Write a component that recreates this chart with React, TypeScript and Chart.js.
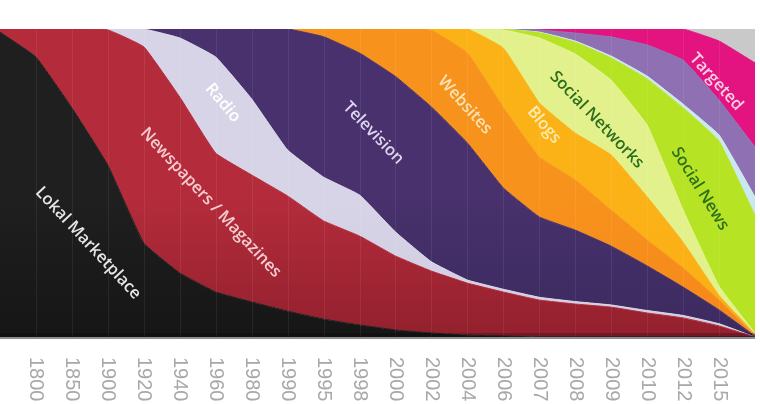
import React, { useEffect, useRef } from 'react';
import { Chart, registerables } from 'chart.js';
Chart.register(...registerables);

const years = ['1800', '1850', '1900', '1920', '1940', '1960', '1980', '1990', '1995', '1998', '2000', '2002', '2004', '2006', '2007', '2008', '2009', '2010', '2012', '2015'];
const categories = ['', ...years, ''];

const lokalMarketplace = [99, 90.9, 74.4, 55.8, 30.5, 20.8, 14.6, 11.4, 8.4, 5.8, 3.9, 2.3, 1.3, 0.6, 0.3, 0, 0, 0, 0, 0, 0, 0];
const newspapers = [1, 9.1, 25.6, 43.9, 63.7, 57.1, 45.1, 41.2, 37.4, 31.9, 28.9, 24.0, 20.1, 16.9, 14.3, 12.0, 10.7, 9.7, 7.8, 6.2, 3.6, 0];
const radio = [0, 0, 0, 0.3, 5.8, 19.2, 31.2, 24.7, 14.9, 14.2, 13.3, 7.8, 3.0, 1.0, 0.9, 0.9, 0.8, 0.7, 0.8, 0.8, 0.7, 0];
const television = [0, 0, 0, 0, 0, 2.9, 9.1, 22.7, 39.3, 45.6, 46.1, 50.5, 50.3, 44.5, 32.9, 26.1, 23.2, 19.1, 14.5, 9.2, 4.5, 0.3];
const websites = [0, 0, 0, 0, 0, 0, 0, 0, 0, 2.5, 7.8, 15.4, 24.8, 29.2, 26.0, 19.4, 16.3, 11.7, 8.4, 6.2, 3.2, 0.2];
const blogs = [0, 0, 0, 0, 0, 0, 0, 0, 0, 0, 0, 0, 0.5, 7.8, 19.4, 17.6, 15.2, 17.9, 14.0, 8.4, 1.5, 0.5];
const socialNetworks = [0, 0, 0, 0, 0, 0, 0, 0, 0, 0, 0, 0, 0, 0, 5.9, 21.1, 25.7, 24.3, 23.3, 10.4, 3.0, 0.3];
const socialNews = [0, 0, 0, 0, 0, 0, 0, 0, 0, 0, 0, 0, 0, 0, 0.2, 1.7, 3.8, 7.2, 15.0, 33.2, 47.1, 38.2];
const otherLight = [0, 0, 0, 0, 0, 0, 0, 0, 0, 0, 0, 0, 0, 0, 0.1, 0.2, 0.4, 0.6, 0.9, 1.2, 2.0, 6.0];
const otherViolet = [0, 0, 0, 0, 0, 0, 0, 0, 0, 0, 0, 0, 0, 0, 0, 0.7, 2.6, 6.2, 10.1, 14.3, 11.3, 16.2];
const targeted = [0, 0, 0, 0, 0, 0, 0, 0, 0, 0, 0, 0, 0, 0, 0, 0.3, 1.3, 2.6, 5.2, 10.1, 19.2, 27.3];
const future = [0, 0, 0, 0, 0, 0, 0, 0, 0, 0, 0, 0, 0, 0, 0, 0, 0, 0, 0, 0, 3.9, 11.0];

const seriesNames = ['Lokal Marketplace', 'Newspapers / Magazines', 'Radio', 'Television', 'Websites', 'Blogs', 'Social Networks', 'Social News', 'Other', 'Mobile', 'Targeted', 'Future'];
const seriesData = [lokalMarketplace, newspapers, radio, television, websites, blogs, socialNetworks, socialNews, otherLight, otherViolet, targeted, future];
const seriesColors = ['#1f1f1f', '#b42c3b', '#d8d4e7', '#48316c', '#f7921c', '#fbb217', '#e3f18c', '#b6e424', '#cbe7ef', '#8e70b3', '#e3147f', '#c9c9c9'];
const seriesBottomColors = ['#161616', '#93202e', '#d0cce2', '#3b2a5f', '#f5871a', '#fbae15', '#e3f18c', '#b6e424', '#cbe7ef', '#8e70b3', '#e3147f', '#c9c9c9'];

// in-area labels: text, category index, value (%), angle (deg), colour
const areaLabels = [
  { text: 'Lokal Marketplace', idx: 2.45, val: 30.5, angle: 47, color: '#e6e6e6' },
  { text: 'Newspapers / Magazines', idx: 5.86, val: 43.6, angle: 47, color: '#f6cdd0' },
  { text: 'Radio', idx: 6.2, val: 76.0, angle: 50, color: '#ffffff' },
  { text: 'Television', idx: 10.38, val: 66.2, angle: 46, color: '#ddd5ee' },
  { text: 'Websites', idx: 12.93, val: 75.3, angle: 48, color: '#fbe3b8' },
  { text: 'Blogs', idx: 15.13, val: 68.8, angle: 50, color: '#fdebb0' },
  { text: 'Social Networks', idx: 16.6, val: 70.5, angle: 46, color: '#2d6e1f' },
  { text: 'Social News', idx: 19.47, val: 48.1, angle: 58, color: '#2d6e1f' },
  { text: 'Targeted', idx: 19.92, val: 82.8, angle: 48, color: '#f9d0e4' },
];

const decorPlugin = {
  id: 'decor',
  afterDatasetsDraw(chart: any) {
    const { ctx, chartArea, scales } = chart;
    const xs = scales.x;
    const ys = scales.y;
    ctx.save();
    ctx.strokeStyle = 'rgba(255,255,255,0.07)';
    ctx.lineWidth = 1;
    for (let i = 1; i <= years.length; i++) {
      const x = Math.round(xs.getPixelForValue(i)) + 0.5;
      ctx.beginPath();
      ctx.moveTo(x, chartArea.top);
      ctx.lineTo(x, chartArea.bottom);
      ctx.stroke();
    }
    ctx.fillStyle = 'rgba(0,0,0,0.22)';
    ctx.fillRect(chartArea.left, chartArea.bottom - 4, chartArea.right - chartArea.left, 4);
    ctx.fillStyle = '#8f8f8f';
    ctx.fillRect(chartArea.left, chartArea.bottom, chartArea.right - chartArea.left, 2);
    ctx.font = '600 16.5px "Open Sans", sans-serif';
    ctx.textAlign = 'center';
    ctx.textBaseline = 'middle';
    for (const l of areaLabels) {
      const x = xs.getPixelForValue(l.idx);
      const y = ys.getPixelForValue(l.val);
      ctx.save();
      ctx.translate(x, y);
      ctx.rotate((l.angle * Math.PI) / 180);
      ctx.fillStyle = l.color;
      ctx.fillText(l.text, 0, 0);
      ctx.restore();
    }
    ctx.font = '20px "Liberation Sans Narrow", "Liberation Sans", sans-serif';
    ctx.fillStyle = '#a8a8a8';
    ctx.textAlign = 'left';
    ctx.textBaseline = 'middle';
    years.forEach((yr, i) => {
      const x = xs.getPixelForValue(i + 1);
      ctx.save();
      ctx.translate(x, chartArea.bottom + 20);
      ctx.rotate(Math.PI / 2);
      ctx.fillText(yr, 0, 0);
      ctx.restore();
    });
    ctx.restore();
  },
};

export default function App() {
  const ref = useRef<HTMLCanvasElement | null>(null);
  useEffect(() => {
    if (!ref.current) return;
    const chart = new Chart(ref.current, {
      type: 'line',
      data: {
        labels: categories,
        datasets: seriesData.map((d, i) => ({
          label: seriesNames[i],
          data: d,
          backgroundColor: (c: any) => {
            const area = c.chart.chartArea;
            if (!area) return seriesColors[i];
            const g = c.chart.ctx.createLinearGradient(0, area.top, 0, area.bottom);
            g.addColorStop(0, seriesColors[i]);
            g.addColorStop(0.55, seriesColors[i]);
            g.addColorStop(1, seriesBottomColors[i]);
            return g;
          },
          borderColor: seriesColors[i],
          borderWidth: 1,
          pointRadius: 0,
          fill: i === 0 ? 'origin' : '-1',
          tension: 0.1,
        })),
      },
      options: {
        responsive: false,
        animation: false,
        layout: { padding: { top: 29, right: 5, bottom: 67, left: 0 } },
        plugins: { legend: { display: false }, tooltip: { enabled: false } },
        scales: {
          x: { display: false, offset: false },
          y: { display: false, stacked: true, min: 0, max: 100 },
        },
      },
      plugins: [decorPlugin],
    });
    return () => chart.destroy();
  }, []);
  return (
    <div style={{ position: 'fixed', left: 0, top: 0, width: 760, height: 404, background: '#fff' }}>
      <canvas ref={ref} width={760} height={404} style={{ width: 760, height: 404 }} />
    </div>
  );
}
